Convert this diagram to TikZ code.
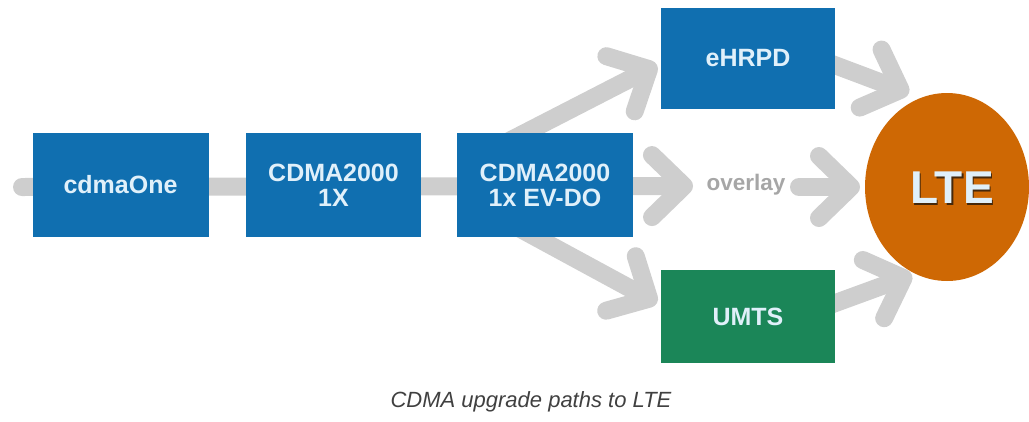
\documentclass[tikz,border=0pt]{standalone}
\usepackage{fontspec}
\setmainfont{Liberation Sans}
\usetikzlibrary{arrows.meta,shapes.geometric,backgrounds,calc}

\definecolor{boxblue}{RGB}{16,111,176}
\definecolor{boxgreen}{RGB}{27,134,88}
\definecolor{lteorange}{RGB}{206,104,4}
\definecolor{pathgray}{RGB}{206,206,206}
\definecolor{labeltext}{RGB}{224,240,250}
\definecolor{lteshadow}{RGB}{70,40,10}
\definecolor{captiongray}{RGB}{64,64,64}

\begin{document}
\begin{tikzpicture}[x=1pt,y=-1pt,
  tech/.style={draw=none, fill=boxblue, text=labeltext, align=center,
    inner sep=0pt, font=\bfseries\fontsize{25}{25}\selectfont},
  upgrade/.style={draw=pathgray, line width=18pt, line cap=round,
    -{Straight Barb[length=32pt,width=62pt,line width=18pt,round]}},
]
\useasboundingbox (0,0) rectangle (1029,421);

% technology boxes
\node[tech, minimum width=176pt, minimum height=104pt] (one)  at (120.5,185) {cdmaOne};
\node[tech, minimum width=175pt, minimum height=104pt] (onex) at (333.5,185) {CDMA2000\\1X};
\node[tech, minimum width=176pt, minimum height=104pt] (evdo) at (545,185)   {CDMA2000\\1x EV-DO};
\node[tech, minimum width=174pt, minimum height=101pt] (ehrpd) at (748,58.5) {eHRPD};
\node[tech, fill=boxgreen, minimum width=174pt, minimum height=93pt] (umts) at (748,316.5) {UMTS};

% target technology
\node[ellipse, fill=lteorange, minimum width=164pt, minimum height=188pt, inner sep=0pt] (lte) at (947,187) {};
\node[text=lteshadow, font=\bfseries\fontsize{46}{46}\selectfont] at ($(lte.center)+(6.5,2.5)$) {LTE};
\node[text=labeltext, font=\bfseries\fontsize{46}{46}\selectfont] (ltetext) at ($(lte.center)+(5,1)$) {LTE};

% overlay label
\node[text=gray!70, font=\bfseries\fontsize{22.5}{22.5}\selectfont] (overlay) at (746,185) {overlay};

% arrow ends
\coordinate (start)  at (22,187);
\coordinate (tipov)  at (693,186);
\coordinate (ovout)  at (799,187);
\coordinate (tiplte) at (860,187);
\coordinate (upin)   at (480,156);
\coordinate (tipup)  at (657,65);
\coordinate (lowin)  at (480,207);
\coordinate (tiplow) at (657,303);
\coordinate (ehout)  at (800,52);
\coordinate (tipeh)  at (909,93);
\coordinate (umout)  at (800,316);
\coordinate (tipum)  at (912,275);

\begin{scope}[on background layer]
  \draw[upgrade] (start) -- (tipov);
  \draw[upgrade] (ovout) -- (tiplte);
  \draw[upgrade] (upin) -- (tipup);
  \draw[upgrade] (lowin) -- (tiplow);
  \draw[upgrade] (ehout) -- (tipeh);
  \draw[upgrade] (umout) -- (tipum);
\end{scope}

% caption
\node[anchor=base, text=captiongray, font=\itshape\fontsize{22}{22}\selectfont] (caption) at (531,407) {CDMA upgrade paths to LTE};
\end{tikzpicture}
\end{document}
